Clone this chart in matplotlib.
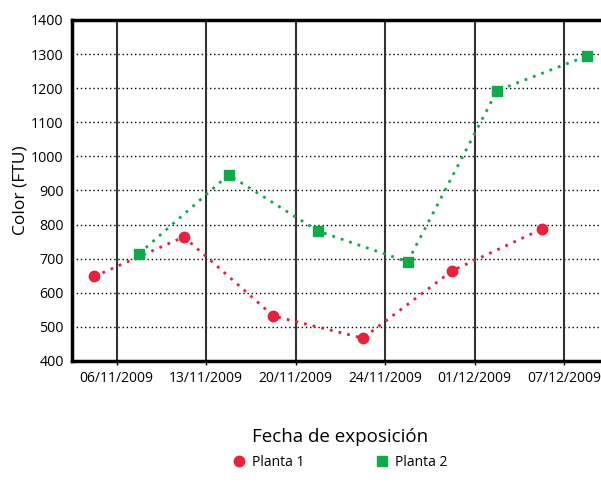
import matplotlib
matplotlib.use("Agg")
import matplotlib.pyplot as plt
import numpy as np

dates = ["06/11/2009", "13/11/2009", "20/11/2009", "24/11/2009", "01/12/2009", "07/12/2009"]
planta1 = [648, 764, 532, 467, 665, 787]
planta2 = [715, 946, 781, 691, 1193, 1294]
yticks = [400, 500, 600, 700, 800, 900, 1000, 1100, 1200, 1300, 1400]

plt.rcParams['font.family'] = ['Open Sans', 'DejaVu Sans']

W, H = 601, 496
fig = plt.figure(figsize=(W/100, H/100), dpi=100)
left, right, top, bottom = 72, 609, 20, 361
ax = fig.add_axes([left/W, 1-bottom/H, (right-left)/W, (bottom-top)/H])

x = np.arange(len(dates))
red = '#E8203F'
green = '#10AA4A'

ax.plot(x-0.25, planta1, linestyle=(0, (1, 2.2)), lw=2, color=red, marker='o', markersize=7.5, label='Planta 1', zorder=5)
ax.plot(x+0.25, planta2, linestyle=(0, (1, 2.2)), lw=2, color=green, marker='s', markersize=7, label='Planta 2', zorder=5)

ax.set_xlim(-0.5, len(dates)-0.5)
ax.set_ylim(400, 1400)
ax.set_yticks(yticks)
ax.set_xticks(x)
ax.set_xticklabels(dates, fontsize=10)
ax.tick_params(axis='y', length=0, labelsize=10.3, pad=6)
ax.tick_params(axis='x', length=3, width=1, pad=4, direction='out')

for yv in yticks[1:-1]:
    ax.axhline(yv, color='black', lw=1, linestyle=(0, (1, 2)), zorder=1)
for xv in x:
    ax.axvline(xv, color='#333333', lw=1.5, zorder=1)

for s in ['left', 'bottom', 'top']:
    ax.spines[s].set_linewidth(2.5)
    ax.spines[s].set_color('black')
ax.spines['right'].set_visible(False)

ax.set_ylabel('Color (FTU)', fontsize=12.5, labelpad=2)
fig.text(340/W, 1-437/H, 'Fecha de exposición', fontsize=13.5, ha='center', va='center')

leg = fig.legend(loc='center', bbox_to_anchor=(339/W, 1-462/H), ncol=2, frameon=False,
                 fontsize=10, columnspacing=5.0, handletextpad=0.3, handlelength=1.2)
for h in leg.legend_handles:
    h.set_linestyle('None')

fig.savefig('out.png', dpi=100)
